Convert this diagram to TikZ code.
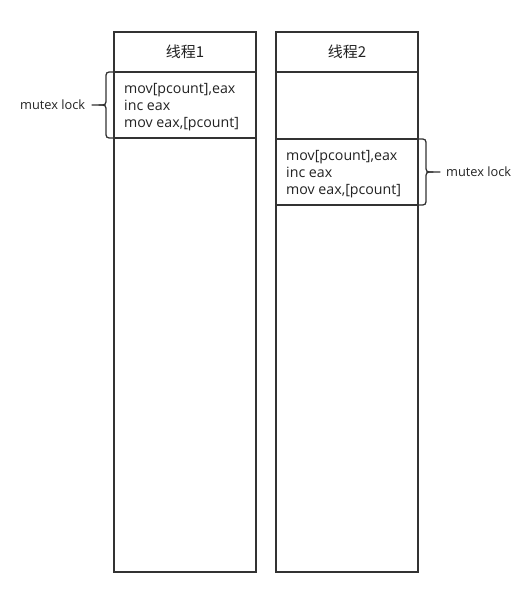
\documentclass[tikz,border=0pt]{standalone}
\usepackage{fontspec}
\setmainfont{Open Sans}
\newfontfamily\cjkfont{Noto Sans CJK SC}
\begin{document}
\begin{tikzpicture}[x=1pt,y=-1pt,
  frame/.style={draw=linec,line width=1.3pt},
  code/.style={anchor=north west,align=left,inner sep=0pt,font=\fontsize{14.2}{17}\selectfont,text=textc},
  title/.style={font=\cjkfont\fontsize{15}{17}\selectfont,text=textc},
  lbl/.style={anchor=west,inner sep=0pt,font=\fontsize{12.8}{14}\selectfont,text=textc},
  bracec/.style={draw=linec,line width=1.3pt,line cap=round,line join=round}]
\definecolor{linec}{HTML}{333333}
\definecolor{textc}{HTML}{222222}
\useasboundingbox (0,0) rectangle (528,589);

% thread 1 column
\draw[frame] (114,32) rectangle (256,572);
\draw[frame] (114,72) -- (256,72);
\draw[frame] (114,138) -- (256,138);
\node[title] (t1) at (185,52) {线程1};
\node[code] (c1) at (124,83.5) {mov[pcount],eax\\inc eax\\mov eax,[pcount]};

% thread 2 column
\draw[frame] (276,32) rectangle (418,572);
\draw[frame] (276,72) -- (418,72);
\draw[frame] (276,139) -- (418,139);
\draw[frame] (276,205) -- (418,205);
\node[title] (t2) at (347,52) {线程2};
\node[code] (c2) at (286,150) {mov[pcount],eax\\inc eax\\mov eax,[pcount]};

% left brace and its label
\draw[bracec] (113,72) .. controls (106,72) .. (106,79) -- (106,98)
  .. controls (106,105) .. (99,105) -- (92,105);
\draw[bracec] (99,105) .. controls (106,105) .. (106,112) -- (106,131)
  .. controls (106,138) .. (113,138);
\node[lbl] (m1) at (20,105) {mutex lock};

% right brace and its label
\draw[bracec] (419,139) .. controls (426,139) .. (426,146) -- (426,165)
  .. controls (426,172) .. (433,172) -- (440,172);
\draw[bracec] (433,172) .. controls (426,172) .. (426,179) -- (426,198)
  .. controls (426,205) .. (419,205);
\node[lbl] (m2) at (446,172) {mutex lock};
\end{tikzpicture}
\end{document}
